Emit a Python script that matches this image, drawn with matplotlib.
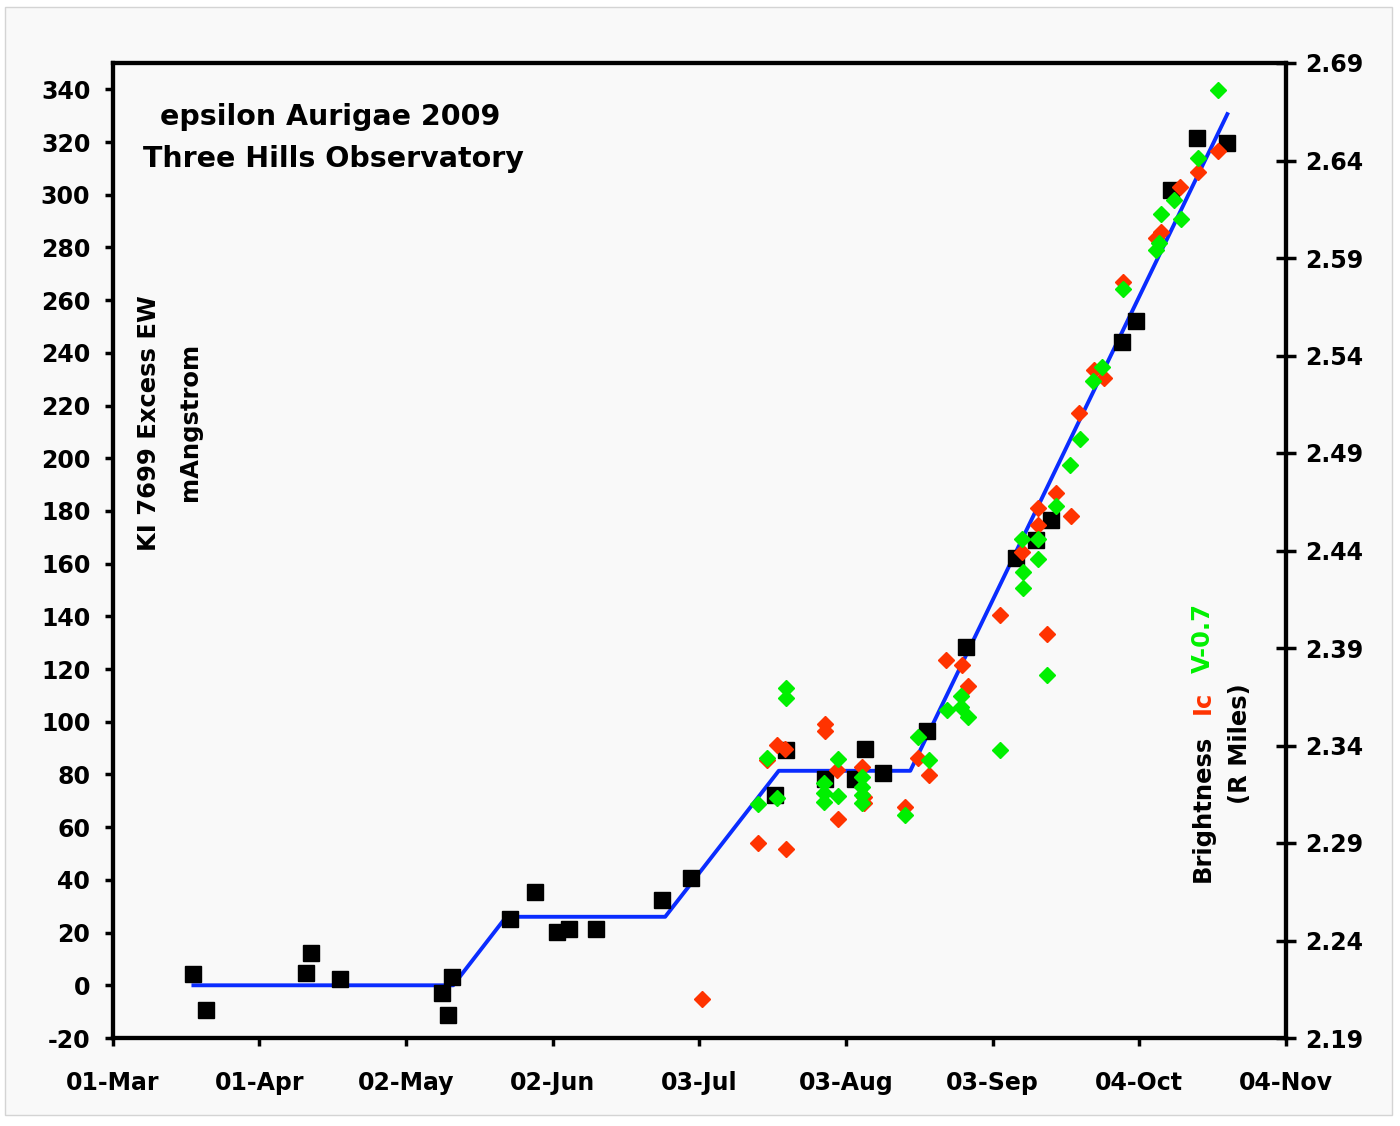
import datetime as dt

import matplotlib
matplotlib.use("Agg")
import matplotlib.dates as mdates
import matplotlib.pyplot as plt
import numpy as np
from matplotlib.patches import Rectangle
from matplotlib.ticker import FixedLocator, FormatStrFormatter

START = dt.datetime(2009, 3, 1)

# KI 7699 excess equivalent width (mA), days counted from 01-Mar-2009
ew_days = [17.0, 19.8, 40.9, 41.9, 48.1, 69.7, 70.9, 71.8, 84.1, 89.2, 94.0,
           96.4, 102.1, 116.1, 122.2, 140.0, 142.3, 150.6, 156.9, 159.1, 162.8,
           172.2, 180.3, 190.9, 195.1, 198.3, 213.3, 216.2, 223.7, 229.2, 235.6]
ew_values = [4.2, -9.4, 4.8, 12.3, 2.4, -2.8, -11.3, 3.3, 25.0, 35.5, 20.3,
             21.3, 21.3, 32.4, 40.8, 72.3, 89.3, 78.2, 78.2, 89.6, 80.5,
             96.6, 128.3, 162.1, 169.0, 176.6, 244.3, 252.1, 301.8, 321.4, 319.5]

# piecewise fit through the EW points
fit_days = [17.1, 72.0, 83.2, 116.8, 140.8, 168.6, 235.6]
fit_values = [0.0, 0.0, 26.0, 26.0, 81.4, 81.4, 330.6]

# Ic brightness
ic_days = [124.5, 136.4, 138.4, 140.4, 142.2, 142.4, 150.5, 150.5, 153.1, 153.3,
           158.4, 158.8, 158.8, 167.5, 170.3, 172.5, 176.2, 179.6, 180.7, 187.5,
           192.3, 195.5, 195.5, 197.4, 199.4, 202.5, 204.3, 207.5, 209.6, 213.5,
           220.5, 221.6, 225.5, 229.4, 233.6]
ic_mag = [2.2098, 2.2902, 2.3326, 2.3403, 2.3381, 2.2871, 2.3510, 2.3476, 2.3274,
          2.3022, 2.3291, 2.3137, 2.3106, 2.3086, 2.3334, 2.3249, 2.3838, 2.3813,
          2.3707, 2.4069, 2.4394, 2.4531, 2.4616, 2.3970, 2.4693, 2.4577, 2.5104,
          2.5326, 2.5283, 2.5778, 2.6001, 2.6035, 2.6266, 2.6343, 2.6450]

# V brightness, offset by -0.7
v_days = [136.4, 138.4, 140.4, 142.4, 142.4, 150.3, 150.3, 150.3, 153.3, 153.3,
          158.4, 158.4, 158.4, 158.4, 167.5, 170.3, 172.5, 176.4, 179.4, 179.4,
          180.7, 187.5, 192.3, 192.4, 192.4, 195.5, 195.5, 197.4, 199.4, 202.3,
          204.4, 207.3, 209.2, 213.5, 220.5, 221.2, 221.6, 224.4, 225.8, 229.4,
          233.6]
v_mag = [2.3100, 2.3337, 2.3132, 2.3693, 2.3642, 2.3206, 2.3155, 2.3112, 2.3331,
         2.3141, 2.3240, 2.3189, 2.3146, 2.3105, 2.3044, 2.3442, 2.3326, 2.3582,
         2.3654, 2.3599, 2.3545, 2.3377, 2.4457, 2.4291, 2.4206, 2.4457, 2.4355,
         2.3762, 2.4628, 2.4838, 2.4970, 2.5271, 2.5339, 2.5739, 2.5941, 2.5975,
         2.6126, 2.6197, 2.6098, 2.6411, 2.6762]

ew_ticks = list(range(-20, 341, 20))
mag_ticks = [2.19, 2.24, 2.29, 2.34, 2.39, 2.44, 2.49, 2.54, 2.59, 2.64, 2.69]

RED = "#ff3300"
GREEN = "#00f000"
BLUE = "#0a2cff"
W, H = 1400, 1126


def to_num(days):
    return mdates.date2num(START) + np.asarray(days, dtype=float)


def fx(px):
    return px / W


def fy(py):
    return 1 - py / H


plt.rcParams["font.family"] = "DejaVu Sans"
plt.rcParams["font.weight"] = "bold"
plt.rcParams["axes.unicode_minus"] = False

fig = plt.figure(figsize=(14, 11.26), dpi=100, facecolor="white")
fig.add_artist(Rectangle((fx(5), fy(1115)), (1392 - 5) / W, (1115 - 7) / H,
                         transform=fig.transFigure, facecolor="#f9f9f9",
                         edgecolor="#d4d4d4", lw=1, zorder=0))

ax = fig.add_axes([fx(112.5), fy(1038), (1286 - 112.5) / W, (1038 - 63) / H])
ax.set_facecolor("none")
ax2 = ax.twinx()

ax.plot(to_num(fit_days), fit_values, color=BLUE, lw=2.8, zorder=2)
ax.plot(to_num(ew_days), ew_values, ls="none", marker="s", ms=11,
        color="black", zorder=3)
ax2.plot(to_num(ic_days), ic_mag, ls="none", marker="D", ms=8.5,
         color=RED, mec=RED, zorder=4)
ax2.plot(to_num(v_days), v_mag, ls="none", marker="D", ms=8.5,
         color=GREEN, mec=GREEN, zorder=5)

ax.set_xlim(to_num([0, 248]))
ax.set_ylim(-20, 350)
ax2.set_ylim(2.19, 2.69)

ax.xaxis.set_major_locator(FixedLocator(to_num(np.arange(0, 249, 31))))
ax.xaxis.set_major_formatter(mdates.DateFormatter("%d-%b"))
ax.yaxis.set_major_locator(FixedLocator(ew_ticks))
ax2.yaxis.set_major_locator(FixedLocator(mag_ticks))
ax2.yaxis.set_major_formatter(FormatStrFormatter("%.2f"))

for a in (ax, ax2):
    for sp in a.spines.values():
        sp.set_linewidth(3)
        sp.set_color("black")

ax.tick_params(axis="x", direction="out", length=6, width=2.5, pad=18,
               labelsize=17)
ax.tick_params(axis="y", direction="out", length=6, width=2.5, pad=10,
               labelsize=17)
ax2.tick_params(axis="y", direction="inout", length=14, width=2.5, pad=7,
                labelsize=17)

# title block inside the plot
fig.text(fx(330), fy(125), "epsilon Aurigae 2009", fontsize=20.5,
         ha="center", va="baseline")
fig.text(fx(333), fy(167), "Three Hills Observatory", fontsize=20.5,
         ha="center", va="baseline")

# left axis caption
fig.text(fx(156), fy(423), "KI 7699 Excess EW", fontsize=17.5, rotation=90,
         rotation_mode="anchor", ha="center", va="baseline")
fig.text(fx(197), fy(422), "mAngstrom", fontsize=17.5, rotation=90,
         rotation_mode="anchor", ha="center", va="baseline")

# right axis caption, coloured by series
fig.text(fx(1210), fy(808), "Brightness", fontsize=17.5, rotation=90,
         rotation_mode="anchor", ha="center", va="baseline", color="black")
fig.text(fx(1210), fy(702), "Ic", fontsize=17.5, rotation=90,
         rotation_mode="anchor", ha="center", va="baseline", color=RED)
fig.text(fx(1210), fy(638), "V-0.7", fontsize=17.5, rotation=90,
         rotation_mode="anchor", ha="center", va="baseline", color=GREEN)
fig.text(fx(1247), fy(744), "(R Miles)", fontsize=17.5, rotation=90,
         rotation_mode="anchor", ha="center", va="baseline")

fig.savefig("out.png", dpi=100, facecolor="white")
